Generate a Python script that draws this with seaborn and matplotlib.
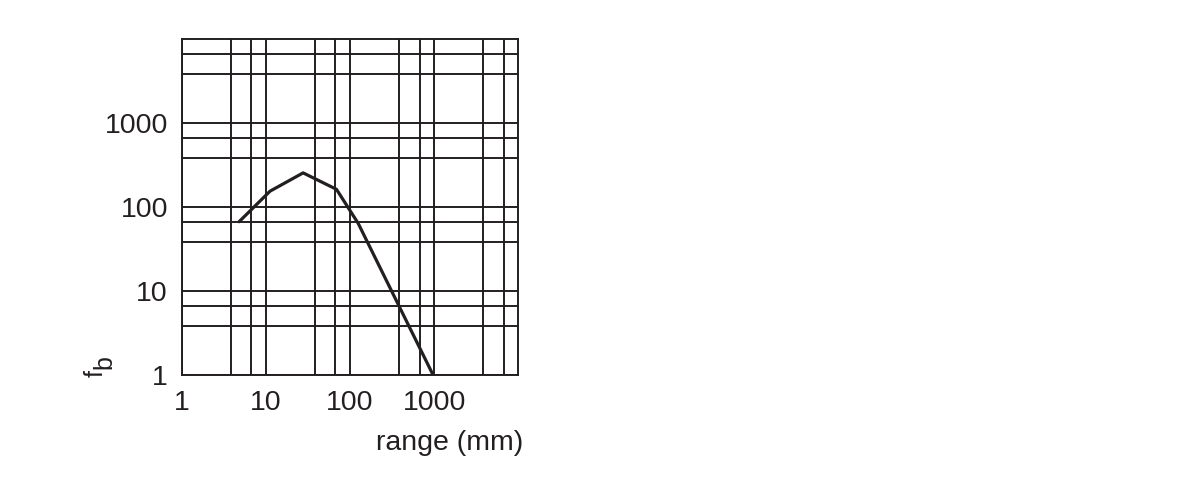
import pandas as pd
import seaborn as sns
import matplotlib.pyplot as plt
from matplotlib.ticker import FixedLocator, NullFormatter

# curve
range_mm = [4.8, 11.2, 27.7, 69, 125, 970]
fb = [67, 155, 256, 163, 64, 1.0]

major_ticks = [1, 10, 100, 1000]
tick_labels = ["1", "10", "100", "1000"]
minor_grid = [3.85, 6.7, 38.5, 67, 385, 670, 3850, 6700]

ink = "#231f20"

sns.set_style("white")
plt.rcParams['font.family'] = ['Liberation Sans', 'DejaVu Sans']

df = pd.DataFrame({"range": range_mm, "fb": fb})

W, H = 1199, 496
fig = plt.figure(figsize=(W / 100, H / 100), dpi=100)
ax = fig.add_axes([0.1516, 0.244, 0.2807, 0.6768])

sns.lineplot(data=df, x="range", y="fb", color=ink, linewidth=2.3, ax=ax, zorder=3)

ax.set_xscale("log")
ax.set_yscale("log")
ax.set_xlim(1, 10000)
ax.set_ylim(1, 10000)

for axis in (ax.xaxis, ax.yaxis):
    axis.set_major_locator(FixedLocator(major_ticks))
    axis.set_minor_locator(FixedLocator(minor_grid))
    axis.set_minor_formatter(NullFormatter())
ax.set_xticklabels(tick_labels)
ax.set_yticklabels(tick_labels)

ax.grid(which="both", color=ink, linewidth=1.4)
ax.tick_params(which="major", direction="out", length=5, width=1.4, color=ink,
               labelsize=20.5, labelcolor=ink)
ax.tick_params(axis="x", which="major", pad=6)
ax.tick_params(axis="y", which="major", pad=5)
ax.tick_params(which="minor", length=0)
for s in ax.spines.values():
    s.set_color(ink)
    s.set_linewidth(1.4)

ax.set_xlabel("range (mm)", fontsize=20.5, color=ink, ha="right")
ax.xaxis.set_label_coords(1.014, -0.165)
ax.set_ylabel("")

# f with a full-size, lowered b, reading bottom to top
fig.text(103 / W, 1 - 377 / H, "f", rotation=90, rotation_mode="anchor",
         ha="left", va="baseline", fontsize=18, color=ink)
fig.text(111 / W, 1 - 369 / H, "b", rotation=90, rotation_mode="anchor",
         ha="left", va="baseline", fontsize=18, color=ink)

plt.savefig("out.png", dpi=100)
